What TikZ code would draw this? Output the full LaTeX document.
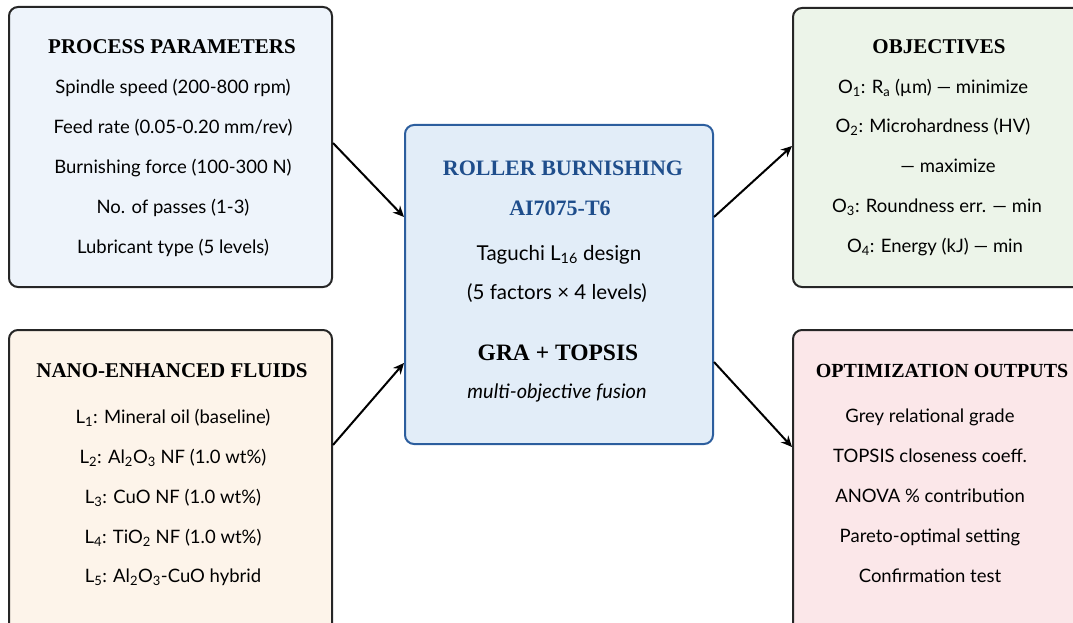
\documentclass[tikz,border=0pt]{standalone}
\usepackage{fontspec}
\setmainfont{Lato}
\newfontfamily\headfont{Liberation Serif}
\usetikzlibrary{positioning,calc}
\usetikzlibrary{arrows,arrows.meta}

\definecolor{ppfill}{HTML}{EEF4FB}
\definecolor{nffill}{HTML}{FDF4EA}
\definecolor{cbfill}{HTML}{E2EDF8}
\definecolor{cbline}{HTML}{2C5E9E}
\definecolor{cbtext}{HTML}{1F4E8C}
\definecolor{objfill}{HTML}{ECF4E9}
\definecolor{outfill}{HTML}{FBE7E9}

\begin{document}
\begin{tikzpicture}[>={Stealth[length=11pt,width=10pt]}, x=1pt, y=-1pt,
	box/.style={draw=black!85, line width=2pt, rounded corners=9pt},
	head/.style={font=\headfont\bfseries\fontsize{21}{24}\selectfont},
	item/.style={font=\fontsize{18.5}{22}\selectfont, text height=13pt, text depth=4pt},
	big/.style={font=\fontsize{20.5}{24}\selectfont, text height=14pt, text depth=5pt},
	link/.style={->, line width=2pt}]
\useasboundingbox (0,0) rectangle (1073,623);
\clip (0,0) rectangle (1073,623);

% boxes
\node [box, fill=ppfill, minimum width=323pt, minimum height=280pt] (pp) at (170.5,147) {};
\node [box, fill=nffill, minimum width=323pt, minimum height=310pt] (nf) at (170.5,485) {};
\node [box, draw=cbline, fill=cbfill, minimum width=308pt, minimum height=319pt] (cb) at (559,284.5) {};
\node [box, fill=objfill, minimum width=300pt, minimum height=279pt] (obj) at (943,147.5) {};
\node [box, fill=outfill, minimum width=300pt, minimum height=310pt] (out) at (943,485) {};

% process parameters
\node [head] (pp0) at (172,47) {PROCESS PARAMETERS};
\node [item] (pp1) at (173,89) {Spindle speed (200-800 rpm)};
\node [item] (pp2) at (173,129) {Feed rate (0.05-0.20 mm/rev)};
\node [item] (pp3) at (173,169) {Burnishing force (100-300 N)};
\node [item] (pp4) at (173,209) {No. of passes (1-3)};
\node [item] (pp5) at (173,249) {Lubricant type (5 levels)};

% nano-enhanced fluids
\node [head] (nf0) at (172,371) {NANO-ENHANCED FLUIDS};
\node [item] (nf1) at (173,419) {L\textsubscript{1}: Mineral oil (baseline)};
\node [item] (nf2) at (173,459) {L\textsubscript{2}: Al\textsubscript{2}O\textsubscript{3} NF (1.0 wt\%)};
\node [item] (nf3) at (173,499) {L\textsubscript{3}: CuO NF (1.0 wt\%)};
\node [item] (nf4) at (173,539) {L\textsubscript{4}: TiO\textsubscript{2} NF (1.0 wt\%)};
\node [item] (nf5) at (173,578) {L\textsubscript{5}: Al\textsubscript{2}O\textsubscript{3}-CuO hybrid};

% centre
\node [head, text=cbtext, font=\headfont\bfseries\fontsize{22}{26}\selectfont] (cb1) at (563,168) {ROLLER BURNISHING};
\node [head, text=cbtext, font=\headfont\bfseries\fontsize{22}{26}\selectfont] (cb2) at (560,208) {AI7075-T6};
\node [big] (cb3) at (559,256) {Taguchi L\textsubscript{16} design};
\node [big] (cb4) at (557,295) {(5 factors × 4 levels)};
\node [head, font=\headfont\bfseries\fontsize{23.5}{28}\selectfont] (cb5) at (558,353) {GRA + TOPSIS};
\node [big, font=\itshape\fontsize{20}{24}\selectfont] (cb6) at (557,394) {multi-objective fusion};

% objectives
\node [head] (obj0) at (939,47) {OBJECTIVES};
\node [item] (obj1) at (933,89) {O\textsubscript{1}: R\textsubscript{a} (µm) — minimize};
\node [item] (obj2) at (933,128) {O\textsubscript{2}: Microhardness (HV)};
\node [item] (obj3) at (948,168) {— maximize};
\node [item] (obj4) at (937,208) {O\textsubscript{3}: Roundness err. — min};
\node [item] (obj5) at (935,248) {O\textsubscript{4}: Energy (kJ) — min};

% outputs
\node [head, font=\headfont\bfseries\fontsize{20}{24}\selectfont] (out0) at (942,371) {OPTIMIZATION OUTPUTS};
\node [item] (out1) at (930,418) {Grey relational grade};
\node [item] (out2) at (930,458) {TOPSIS closeness coeff.};
\node [item] (out3) at (930,498) {ANOVA \% contribution};
\node [item] (out4) at (930,538) {Pareto-optimal setting};
\node [item] (out5) at (930,578) {Confirmation test};

% arrows
\draw [link] ([yshift=4pt]pp.east) -- ([yshift=67.5pt]cb.west);
\draw [link] ([yshift=40pt]nf.east) -- ([yshift=-78.5pt]cb.west);
\draw [link] ([yshift=67.5pt]cb.east) -- ([yshift=1.5pt]obj.west);
\draw [link] ([yshift=-77.5pt]cb.east) -- ([yshift=38pt]out.west);
\end{tikzpicture}
\end{document}
